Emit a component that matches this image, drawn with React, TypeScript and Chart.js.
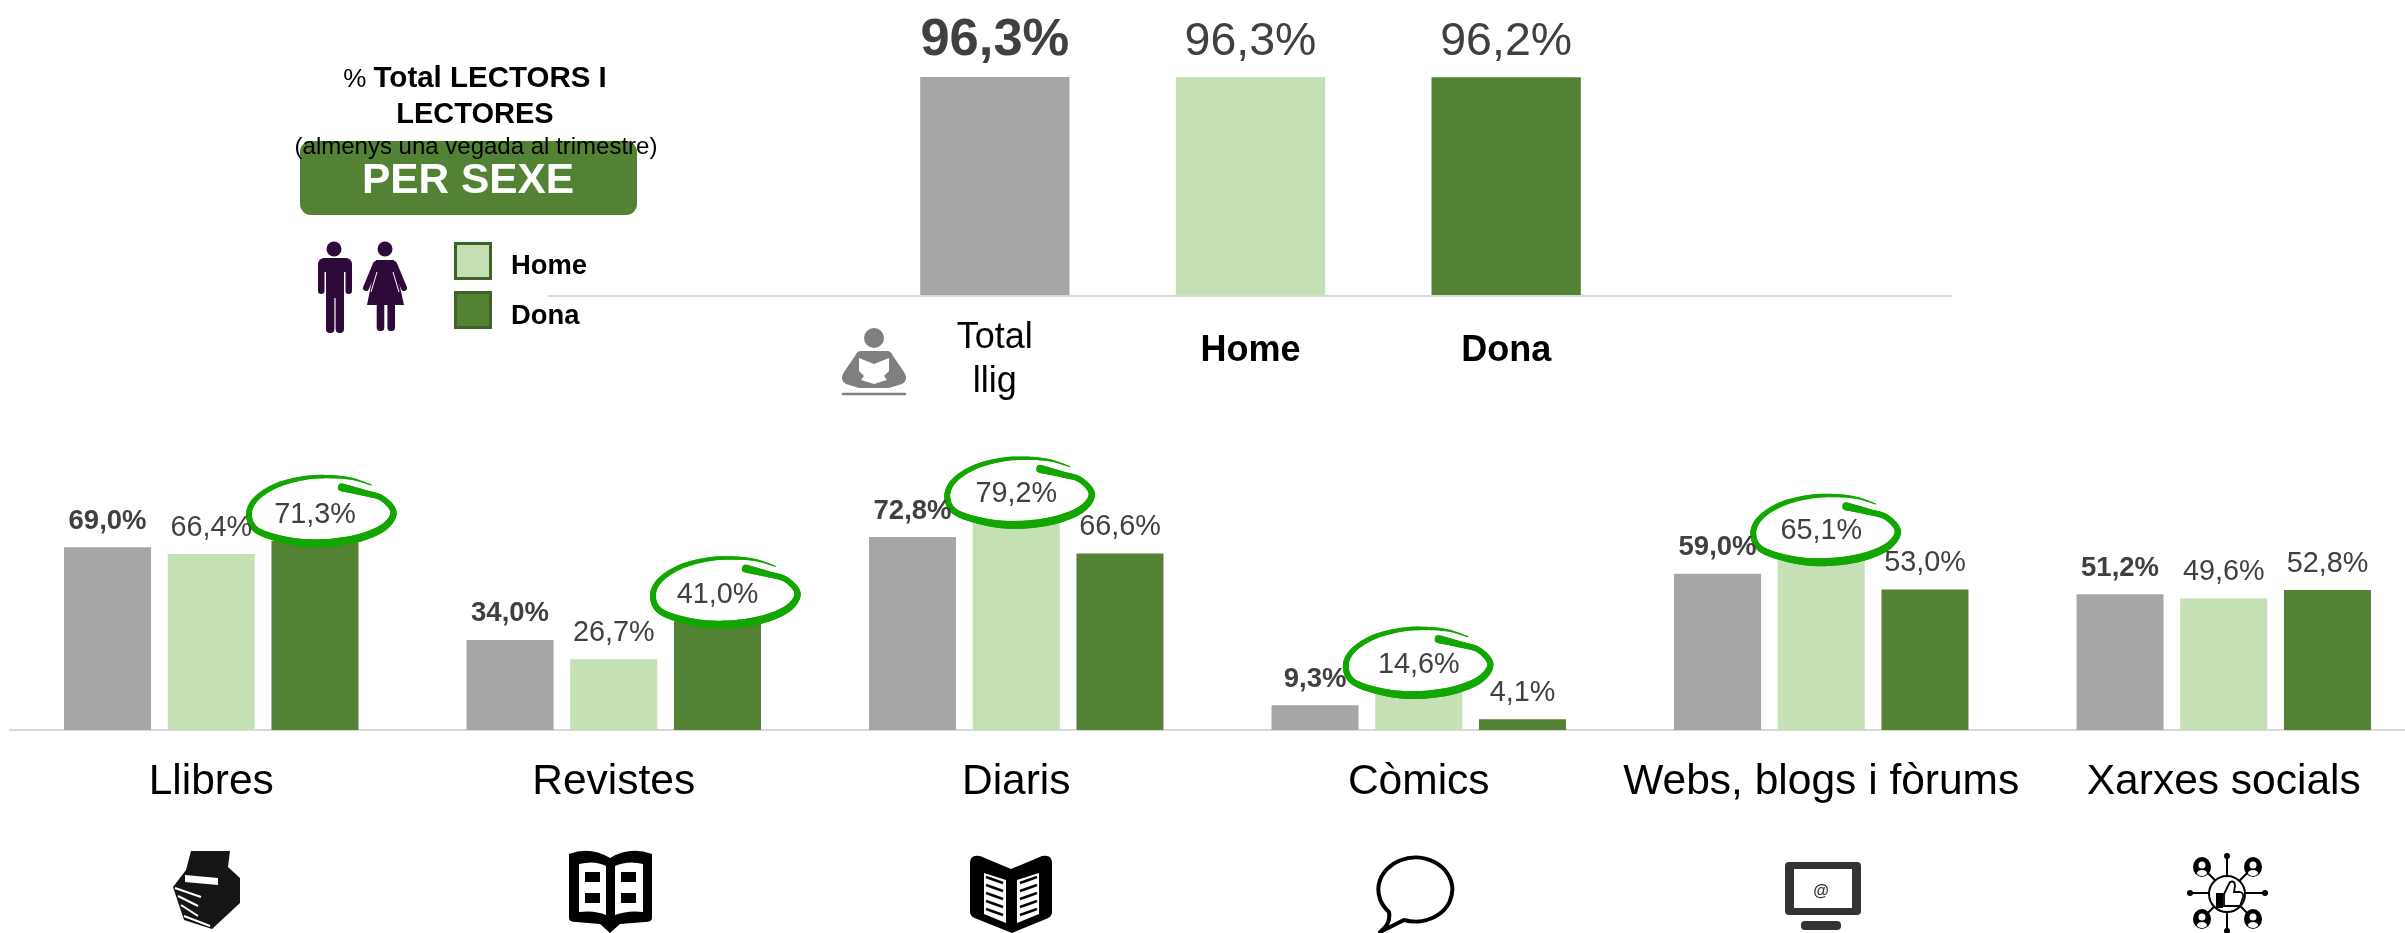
import React, { useEffect, useRef } from "react";
import { Chart, registerables } from "chart.js";

Chart.register(...registerables);

const FONT = "'Liberation Sans', Arial, sans-serif";

const topCategories: (string | string[])[] = [["Total", "llig"], "Home", "Dona"];
const topValues = [96.3, 96.3, 96.2];

const categories = ["Llibres", "Revistes", "Diaris", "Còmics", "Webs, blogs i fòrums", "Xarxes socials"];
const totalValues = [69.0, 34.0, 72.8, 9.3, 59.0, 51.2];
const homeValues = [66.4, 26.7, 79.2, 14.6, 65.1, 49.6];
const donaValues = [71.3, 41.0, 66.6, 4.1, 53.0, 52.8];

const GRAY = "#A6A6A6";
const LIGHT = "#C5E0B4";
const DARK = "#548235";
const LABEL = "#404040";
const CIRCLE = "#12A600";
const AXIS = "#D9D9D9";

const fmt = (v: number) => v.toFixed(1).replace(".", ",") + "%";

// Which bars carry the hand-drawn highlight: [dataset, category, nudge x, nudge y]
const highlights: [number, number, number, number][] = [
  [2, 0, 1, 0],
  [2, 1, 2.5, 1],
  [1, 2, -2, 2.5],
  [1, 3, -6, 1.5],
  [1, 4, -1, 2.5],
];

// Stroke of the highlight relative to the bar's top centre: [dx, dy, width]
const stroke: [number, number, number][] = [
  [55.4, -56, 1], [37, -62, 2], [16.1, -64.3, 3.2], [-9.8, -63.3, 4],
  [-38.4, -56, 4.8], [-59.4, -42.7, 5.2], [-67, -27, 5.8], [-59.4, -11, 6.2],
  [-30.6, -1, 7], [0.8, 2.3, 8], [37.4, -1.7, 8], [66.2, -12.7, 7.4],
  [77.6, -28.3, 6.2], [66.2, -42.7, 5.6], [47.8, -48.3, 6], [25.9, -53.7, 8],
];

function drawHighlight(ctx: CanvasRenderingContext2D, cx: number, ty: number) {
  const P = stroke.map(([dx, dy, w]) => [cx + dx, ty + dy, w]);
  ctx.save();
  ctx.beginPath();
  P.forEach((p, i) => (i ? ctx.lineTo(p[0], p[1]) : ctx.moveTo(p[0], p[1])));
  ctx.closePath();
  ctx.fillStyle = "#fff";
  ctx.fill();
  ctx.strokeStyle = CIRCLE;
  ctx.lineCap = "round";
  const cr = (a: number, b: number, c: number, d: number, t: number) =>
    0.5 * (2 * b + (c - a) * t + (2 * a - 5 * b + 4 * c - d) * t * t + (3 * b - a - 3 * c + d) * t * t * t);
  for (let i = 0; i < P.length - 1; i++) {
    const p0 = P[Math.max(i - 1, 0)], p1 = P[i], p2 = P[i + 1], p3 = P[Math.min(i + 2, P.length - 1)];
    let lx = p1[0], ly = p1[1];
    for (let s = 1; s <= 10; s++) {
      const t = s / 10;
      const x = cr(p0[0], p1[0], p2[0], p3[0], t), y = cr(p0[1], p1[1], p2[1], p3[1], t);
      ctx.beginPath();
      ctx.moveTo(lx, ly);
      ctx.lineTo(x, y);
      ctx.lineWidth = p1[2] + (p2[2] - p1[2]) * t;
      ctx.stroke();
      lx = x; ly = y;
    }
  }
  ctx.restore();
}

function labelPlugin(boldSize: number, regSize: number, gap: number, isBold: (ds: number, i: number) => boolean) {
  return {
    id: "valueLabels",
    afterDatasetsDraw(chart: any) {
      const ctx = chart.ctx as CanvasRenderingContext2D;
      ctx.save();
      ctx.textAlign = "center";
      ctx.textBaseline = "alphabetic";
      ctx.fillStyle = LABEL;
      chart.data.datasets.forEach((ds: any, d: number) => {
        chart.getDatasetMeta(d).data.forEach((el: any, i: number) => {
          const b = isBold(d, i);
          ctx.font = `${b ? "bold " : ""}${b ? boldSize : regSize}px ${FONT}`;
          ctx.fillText(fmt(ds.data[i]), el.x, el.y - gap);
        });
      });
      ctx.restore();
    },
  };
}

const highlightPlugin = {
  id: "highlights",
  afterDatasetsDraw(chart: any) {
    highlights.forEach(([d, i, nx, ny]) => {
      const el = chart.getDatasetMeta(d).data[i];
      drawHighlight(chart.ctx, el.x + nx, el.y + ny);
    });
  },
};

const longBaseline = {
  id: "longBaseline",
  beforeDatasetsDraw(chart: any) {
    const ctx = chart.ctx as CanvasRenderingContext2D;
    const y = chart.scales.y.getPixelForValue(0) + 1;
    ctx.save();
    ctx.strokeStyle = AXIS;
    ctx.lineWidth = 2;
    ctx.beginPath();
    ctx.moveTo(548, y);
    ctx.lineTo(1952, y);
    ctx.stroke();
    ctx.restore();
  },
};

function Txt({ x, base, size, bold, color, center, children }: any) {
  return (
    <div
      style={{
        position: "absolute",
        left: x,
        top: base - size * 0.905,
        fontFamily: FONT,
        fontSize: size,
        fontWeight: bold ? "bold" : "normal",
        color: color || "#000",
        whiteSpace: "nowrap",
        lineHeight: "normal",
        transform: center ? "translateX(-50%)" : undefined,
      }}
    >
      {children}
    </div>
  );
}

function Icons() {
  const pc = "#2D0A3A";
  const g = "#7F7F7F";
  const persons = [[2202, 867], [2253, 867], [2202, 919], [2253, 919]];
  const dots = [[2227, 856], [2227, 931], [2190, 893], [2265, 893]];
  return (
    <svg width={2405} height={933} style={{ position: "absolute", left: 0, top: 0 }}>
      {/* man */}
      <g fill={pc}>
        <circle cx={334} cy={249} r={7.5} />
        <rect x={318} y={258} width={34} height={14} rx={6} />
        <rect x={318} y={262} width={6.5} height={32} rx={3.2} />
        <rect x={345.5} y={262} width={6.5} height={32} rx={3.2} />
        <rect x={326} y={262} width={18} height={36} />
        <rect x={326} y={290} width={8.4} height={43} rx={4} />
        <rect x={335.6} y={290} width={8.4} height={43} rx={4} />
        {/* woman */}
        <circle cx={385} cy={249} r={7.5} />
        <path d="M376 260 H394 L404 305 H367 Z" />
        <rect x={376.7} y={300} width={7.6} height={31} rx={3.5} />
        <rect x={387.4} y={300} width={7.6} height={31} rx={3.5} />
      </g>
      <g stroke={pc} strokeWidth={6} strokeLinecap="round">
        <line x1={376} y1={264} x2={366} y2={288} />
        <line x1={394} y1={264} x2={404} y2={288} />
      </g>
      <g stroke="#fff" strokeWidth={1}>
        <line x1={377} y1={272} x2={371} y2={292} />
        <line x1={393} y1={272} x2={399} y2={292} />
      </g>
      {/* reader */}
      <circle cx={874} cy={338} r={10} fill={g} />
      <path d="M861 351 H887 Q891 351 893 356 L904 372 Q909 380 902 384 L889 388 H859 L846 384 Q839 380 844 372 L855 356 Q857 351 861 351 Z" fill={g} />
      <path d="M859 358 L874 364 L889 358 L889 371 L884 376 L887 380 L874 384 L861 380 L864 376 L859 371 Z" fill="#fff" />
      <line x1={843} y1={394} x2={905} y2={394} stroke={g} strokeWidth={2.5} strokeLinecap="round" />
      {/* books */}
      <path d="M191 851 L230 851 L228 867 L240 878 L240 903 L212 929 L184 920 L173 887 L186 870 Z" fill="#151515" />
      <path d="M185 875 L218 878 L218 885 L185 882 Z" fill="#fff" />
      <g stroke="#fff" strokeWidth={2}>
        <line x1={175} y1={888} x2={201} y2={897} />
        <line x1={178} y1={896} x2={198} y2={906} />
        <line x1={181} y1={905} x2={198} y2={916} />
        <line x1={184} y1={916} x2={210} y2={926} />
      </g>
      {/* magazine */}
      <path d="M569 854 Q590 846 610 858 Q630 846 652 854 L652 918 Q652 922 645 922 L620 924 L610 933 L600 924 L576 922 Q569 922 569 918 Z" fill="#000" />
      <path d="M579 864 Q595 860 606 866 L606 915 Q595 910 579 912 Z M615 866 Q628 860 643 864 L643 912 Q628 910 615 915 Z" fill="#fff" />
      <g fill="#000">
        <rect x={585} y={872} width={15} height={10} />
        <rect x={585} y={893} width={15} height={10} />
        <rect x={621} y={872} width={15} height={10} />
        <rect x={621} y={893} width={15} height={10} />
      </g>
      {/* newspaper */}
      <path d="M970 863 Q970 854 980 856 L1011 869 L1042 856 Q1052 854 1052 863 L1052 912 Q1052 917 1046 919 L1012 933 L977 919 Q970 917 970 912 Z" fill="#000" />
      <path d="M984 873 L1006 880 L1006 923 L984 914 Z M1017 880 L1039 873 L1039 914 L1017 923 Z" fill="#fff" />
      <g stroke="#000" strokeWidth={2.4}>
        {[0, 1, 2, 3, 4].map((k) => (
          <g key={k}>
            <line x1={986} y1={877 + k * 8} x2={1003} y2={883 + k * 8} />
            <line x1={1020} y1={883 + k * 8} x2={1037} y2={877 + k * 8} />
          </g>
        ))}
      </g>
      {/* comic bubble */}
      <path d="M1389 912 A37 32 0 1 1 1404 920 L1380 932 Q1391 924 1389 912 Z" fill="#fff" stroke="#000" strokeWidth={4} strokeLinejoin="round" />
      {/* web */}
      <rect x={1785} y={862} width={76} height={53} rx={4} fill="#333" />
      <rect x={1794} y={869} width={58} height={39} fill="#fff" />
      <rect x={1801} y={921} width={40} height={9} rx={4} fill="#333" />
      {/* social */}
      <g stroke="#000" strokeWidth={2}>
        <line x1={2227} y1={856} x2={2227} y2={931} />
        <line x1={2190} y1={893} x2={2265} y2={893} />
        <line x1={2202} y1={867} x2={2253} y2={919} />
        <line x1={2253} y1={867} x2={2202} y2={919} />
      </g>
      {dots.map(([x, y], i) => <circle key={i} cx={x} cy={y} r={3} fill="#000" />)}
      {persons.map(([x, y], i) => (
        <g key={i}>
          <ellipse cx={x} cy={y} rx={9} ry={10} fill="#000" />
          <circle cx={x} cy={y - 2} r={3.5} fill="#fff" />
          <ellipse cx={x} cy={y + 6} rx={5} ry={3} fill="#fff" />
        </g>
      ))}
      <ellipse cx={2227} cy={894} rx={18} ry={18} fill="#fff" stroke="#000" strokeWidth={2} />
      <rect x={2216} y={893} width={7} height={15} fill="#000" />
      <path d="M2224 894 L2230 882 Q2235 880 2235 886 L2234 892 H2240 Q2244 893 2243 897 L2240 906 H2224 Z" fill="#fff" stroke="#000" strokeWidth={1.8} />
    </svg>
  );
}

export default function App() {
  const topRef = useRef<HTMLCanvasElement>(null);
  const botRef = useRef<HTMLCanvasElement>(null);

  useEffect(() => {
    const top = new Chart(topRef.current!, {
      type: "bar",
      data: {
        labels: topCategories as any,
        datasets: [
          {
            data: topValues,
            backgroundColor: [GRAY, LIGHT, DARK],
            categoryPercentage: 1,
            barPercentage: 0.584,
          },
        ],
      },
      options: {
        animation: false,
        responsive: false,
        devicePixelRatio: 1,
        layout: { padding: { left: 867, right: 771, top: 68.6, bottom: 0 } },
        plugins: { legend: { display: false }, tooltip: { enabled: false } },
        scales: {
          x: {
            afterFit: (s: any) => { s.height = 135; },
            grid: { display: false },
            border: { display: false },
            ticks: {
              color: "#000",
              padding: 13.5,
              autoSkip: false,
              maxRotation: 0,
              font: (c: any) =>
                c.index === 0
                  ? { family: FONT, size: 36, weight: "normal", lineHeight: 44 / 36 }
                  : { family: FONT, size: 36, weight: "bold", lineHeight: 69 / 36 },
            },
          },
          y: { display: false, min: 0, max: 100 },
        },
      },
      plugins: [longBaseline, labelPlugin(52.5, 46.5, 22, (_d, i) => i === 0)],
    } as any);

    const bottom = new Chart(botRef.current!, {
      type: "bar",
      data: {
        labels: categories,
        datasets: [
          { label: "Total", data: totalValues, backgroundColor: GRAY },
          { label: "Home", data: homeValues, backgroundColor: LIGHT },
          { label: "Dona", data: donaValues, backgroundColor: DARK },
        ].map((d) => ({ ...d, categoryPercentage: 0.773, barPercentage: 0.839 })),
      },
      options: {
        animation: false,
        responsive: false,
        devicePixelRatio: 1,
        layout: { padding: { left: 10, right: 0, top: 25, bottom: 0 } },
        plugins: { legend: { display: false }, tooltip: { enabled: false } },
        scales: {
          x: {
            afterFit: (s: any) => { s.height = 203; },
            grid: { display: false },
            border: { color: AXIS, width: 2 },
            ticks: {
              color: "#000",
              padding: 19,
              autoSkip: false,
              maxRotation: 0,
              font: { family: FONT, size: 42.5, lineHeight: 1.2 },
            },
          },
          y: { display: false, min: 0, max: 100 },
        },
      },
      plugins: [highlightPlugin, labelPlugin(27.5, 28.8, 18.5, (d) => d === 0)],
    } as any);

    return () => {
      top.destroy();
      bottom.destroy();
    };
  }, []);

  return (
    <div style={{ position: "absolute", left: 0, top: 0, width: 2405, height: 933, overflow: "hidden", background: "#fff" }}>
      <canvas ref={topRef} width={2405} height={430} style={{ position: "absolute", left: 0, top: 0, display: "block" }} />
      <canvas ref={botRef} width={2425} height={493} style={{ position: "absolute", left: 0, top: 440, display: "block" }} />
      <div style={{ position: "absolute", left: 300, top: 141, width: 337, height: 74, borderRadius: 11, background: DARK }} />
      <Txt x={475} base={86.5} size={29.5} center><span style={{ fontWeight: "normal", fontSize: 26 }}>% </span><b>Total LECTORS I</b></Txt>
      <Txt x={475} base={123} size={29} bold center>LECTORES</Txt>
      <Txt x={476} base={154} size={24} center>(almenys una vegada al trimestre)</Txt>
      <Txt x={468} base={193} size={42.4} bold color="#fff" center>PER SEXE</Txt>
      <div style={{ position: "absolute", boxSizing: "border-box", left: 454, top: 242, width: 38, height: 38, background: LIGHT, border: "3px solid #3F6327" }} />
      <div style={{ position: "absolute", boxSizing: "border-box", left: 454, top: 291, width: 38, height: 38, background: DARK, border: "3px solid #3F6327" }} />
      <Txt x={511} base={274} size={27.4} bold>Home</Txt>
      <Txt x={511} base={324} size={27.4} bold>Dona</Txt>
      <Icons />
      <Txt x={1821} base={896} size={16} bold color="#333" center>@</Txt>
    </div>
  );
}
